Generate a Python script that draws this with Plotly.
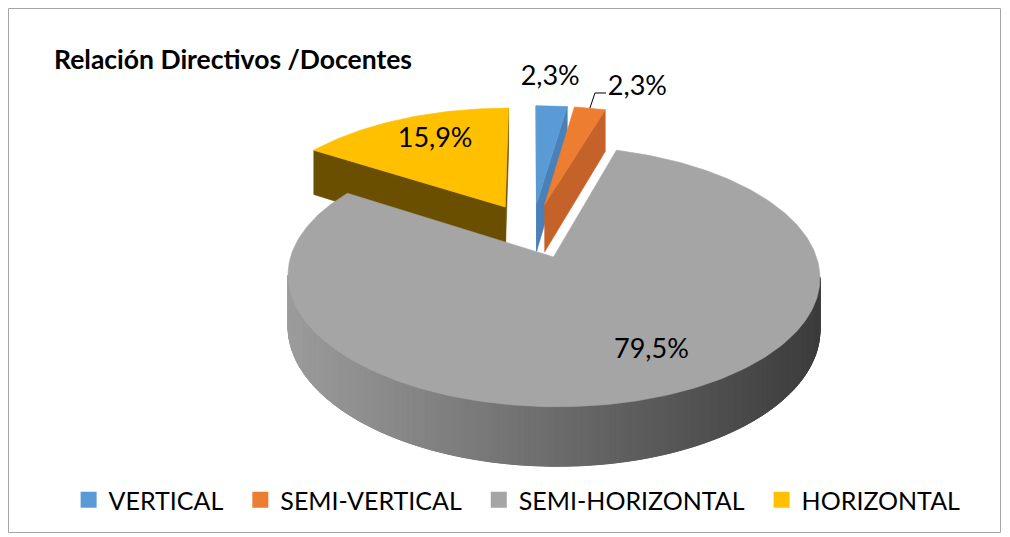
import numpy as np
import plotly.graph_objects as go

# ---------------- data ----------------
categories = ["VERTICAL", "SEMI-VERTICAL", "SEMI-HORIZONTAL", "HORIZONTAL"]
values = [2.3, 2.3, 79.5, 15.9]
value_labels = ["2,3%", "2,3%", "79,5%", "15,9%"]
title_text = "Relación Directivos /Docentes"

# ---------------- style ----------------
top_colors = ["#5B9BD5", "#ED7D31", "#A5A5A5", "#FFC000"]
side_colors = ["#4A80B8", "#C4622A", "#6E6E6E", "#6A4F00"]
W, HPX = 1010, 537
CX, CY = 532.5, 230.4          # projected pie centre (px)
AX, BY = 254.7, 119.5          # projected radii (px)
KP = 0.145                     # perspective strength
DEPTH = 49                     # pie thickness (px)
EXPLODE = 0.23                 # explosion as fraction of radius
# label placement: (radius factor, angle shift deg, text anchor)
label_style = [(1.337, -1.2, "middle center"),
               (1.2545, 1.8, "middle right"),
               (0.745, -5.7, "middle center"),
               (0.72, 2.3, "middle center")]
leader_slices = [1]
draw_order = [0, 1, 3, 2]
FONT = "Lato, Carlito, 'Open Sans', sans-serif"
LEGEND_PAD = "\u00a0\u00a0"

CAM = np.array([0.0, -1.0 / KP])


def proj(X, Z, h=0.0):
    d = 1.0 + KP * Z
    return CX + AX * X / d, CY + (-BY * Z + DEPTH * h) / d


def unit(t):
    r = np.radians(t)
    return np.array([np.sin(r), np.cos(r)])


def gray_wall_color(x):
    t = min(max((x - 288.0) / (820.0 - 288.0), 0.0), 1.0)
    g = int(round(156 - 96 * t))
    return f"rgb({g},{g},{g})"


def poly_trace(pts, color, lw=0.6):
    xs = [p[0] for p in pts] + [pts[0][0]]
    ys = [p[1] for p in pts] + [pts[0][1]]
    return go.Scatter(x=xs, y=ys, mode="lines", fill="toself", fillcolor=color,
                      line=dict(color=color, width=lw), hoverinfo="skip",
                      showlegend=False)


total = float(sum(values))
cum = np.concatenate([[0.0], np.cumsum(values)]) / total * 360.0

fig = go.Figure()
label_pts = {}
leader = {}

for i in draw_order:
    t0, t1 = cum[i], cum[i + 1]
    mid = 0.5 * (t0 + t1)
    O = EXPLODE * unit(mid)
    # radial faces
    for t, nrm in ((t0, t0 - 90.0), (t1, t1 + 90.0)):
        P = O + 0.5 * unit(t)
        if np.dot(unit(nrm), CAM - P) > 0:
            E = O + unit(t)
            pts = [proj(*O, 0), proj(*E, 0), proj(*E, 1), proj(*O, 1)]
            fig.add_trace(poly_trace(pts, side_colors[i]))
    # outer wall (visible part)
    n = max(6, int((t1 - t0) / 0.8) + 2)
    th = np.linspace(t0, t1, n)
    segs = []
    for a, b in zip(th[:-1], th[1:]):
        m = 0.5 * (a + b)
        P = O + unit(m)
        if np.dot(unit(m), CAM - P) > 0:
            segs.append((a, b))
    if segs:
        a0, b1 = segs[0][0], segs[-1][1]
        tt = np.linspace(a0, b1, 200)
        base = [proj(*(O + unit(t)), 0) for t in tt] + \
               [proj(*(O + unit(t)), 1) for t in tt[::-1]]
        fig.add_trace(poly_trace(base, side_colors[i]))
        if i == 2:
            for a, b in segs:
                Pa, Pb = O + unit(a), O + unit(b)
                pts = [proj(*Pa, 0), proj(*Pb, 0), proj(*Pb, 1), proj(*Pa, 1)]
                col = gray_wall_color(proj(*(O + unit(0.5 * (a + b))), 0)[0])
                fig.add_trace(poly_trace(pts, col, lw=1.0))
    # top face
    th = np.linspace(t0, t1, max(4, int((t1 - t0) / 1.0) + 2))
    pts = [proj(*O, 0)] + [proj(*(O + unit(t)), 0) for t in th]
    fig.add_trace(poly_trace(pts, top_colors[i]))
    # label point
    r, da, anchor = label_style[i]
    label_pts[i] = proj(*(O + r * unit(mid + da)), 0)
    if i in leader_slices:
        p0 = proj(*(O + 1.0 * unit(mid)), 0)
        p1 = proj(*(O + 1.181 * unit(mid - 0.45)), 0)
        p2 = (p1[0] + 11, p1[1])
        leader[i] = (p0, p1, p2)

# leader lines
for i, (p0, p1, p2) in leader.items():
    fig.add_trace(go.Scatter(x=[p0[0], p1[0], p2[0]], y=[p0[1], p1[1], p2[1]],
                             mode="lines", line=dict(color="#000000", width=1),
                             hoverinfo="skip", showlegend=False))

# data labels
for i in range(len(values)):
    r, da, anchor = label_style[i]
    x, y = label_pts[i]
    fig.add_trace(go.Scatter(x=[x], y=[y], mode="text", text=[value_labels[i]],
                             textposition=anchor,
                             textfont=dict(family=FONT, size=27, color="#000000"),
                             hoverinfo="skip", showlegend=False))

# legend entries
for k, (c, col) in enumerate(zip(categories, top_colors)):
    name = c + (LEGEND_PAD if k < len(categories) - 1 else "")
    fig.add_trace(go.Scatter(x=[None], y=[None], mode="markers", name=name,
                             marker=dict(symbol="square", size=16, color=col,
                                         line=dict(width=0))))

fig.add_shape(type="rect", xref="x", yref="y", x0=8.5, y0=8.5, x1=1000.5, y1=532.5,
              line=dict(color="#A6A6A6", width=1), fillcolor="rgba(0,0,0,0)", layer="below")

fig.update_layout(
    width=W, height=HPX,
    margin=dict(l=0, r=0, t=0, b=0),
    paper_bgcolor="white", plot_bgcolor="white",
    xaxis=dict(range=[0, W], visible=False, fixedrange=True),
    yaxis=dict(range=[HPX, 0], visible=False, fixedrange=True),
    showlegend=True,
    legend=dict(orientation="h", x=0.512, xanchor="center", y=1 - 500 / HPX,
                yanchor="middle", font=dict(family=FONT, size=25, color="#000000"),
                traceorder="normal", bgcolor="rgba(0,0,0,0)"),
    title=dict(text="<b>" + title_text + "</b>", x=54 / W, xanchor="left",
               y=1 - 60 / HPX, yanchor="middle",
               font=dict(family=FONT, size=26.5, color="#000000")),
    hovermode=False,
)

fig.write_html("out.html", config={"displayModeBar": False},
               post_script="document.body.style.margin='0';document.body.style.overflow='hidden';")
